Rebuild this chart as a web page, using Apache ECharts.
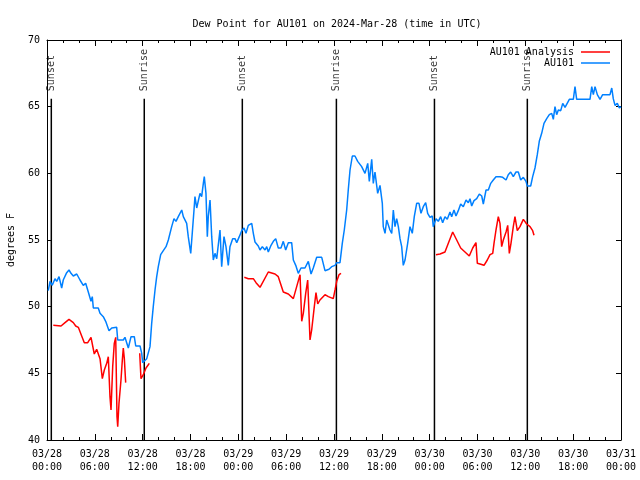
<!DOCTYPE html>
<html>
<head>
<meta charset="utf-8">
<script src="https://cdn.jsdelivr.net/npm/echarts@6/dist/echarts.min.js"></script>
<style>html,body{margin:0;padding:0;background:#fff;}#c{width:640px;height:480px;}</style>
</head>
<body>
<div id="c"></div>
<script>
// hours since 2024-03-28 00:00 UTC
const xTickLabels = ['03/28\n00:00','03/28\n06:00','03/28\n12:00','03/28\n18:00','03/29\n00:00','03/29\n06:00','03/29\n12:00','03/29\n18:00','03/30\n00:00','03/30\n06:00','03/30\n12:00','03/30\n18:00','03/31\n00:00'];

const blueHours = [0.16,0.38,0.66,1.00,1.22,1.51,1.84,2.04,2.47,2.76,3.01,3.30,3.73,4.14,4.55,4.85,5.18,5.52,5.68,5.81,6.43,6.65,7.06,7.36,7.61,7.78,8.12,8.74,8.87,9.57,9.78,10.0,10.2,10.54,10.95,11.13,11.67,11.88,12.0,12.08,12.51,12.92,13.13,13.33,13.55,13.76,13.96,14.26,14.59,14.93,15.22,15.64,15.93,16.18,16.47,16.90,17.10,17.52,17.72,18.03,18.28,18.44,18.56,18.78,19.19,19.40,19.61,19.73,19.94,20.11,20.23,20.45,20.66,20.86,21.07,21.29,21.49,21.70,21.91,22.20,22.45,22.74,22.95,23.29,23.58,23.80,24.12,24.42,24.71,24.96,25.25,25.68,25.88,26.09,26.50,26.72,27.01,27.35,27.56,27.76,28.10,28.39,28.69,29.01,29.35,29.64,29.94,30.27,30.69,30.90,31.20,31.52,31.86,32.36,32.78,33.12,33.40,33.83,34.46,34.87,35.37,35.71,36.13,36.34,36.75,37.04,37.29,37.59,37.79,38.01,38.30,38.63,38.97,39.47,39.89,40.23,40.43,40.73,40.93,41.14,41.48,41.77,42.06,42.18,42.40,42.61,42.81,43.02,43.24,43.44,43.65,43.86,44.07,44.28,44.49,44.69,44.91,45.24,45.53,45.82,46.07,46.37,46.66,46.91,47.20,47.50,47.75,48.04,48.33,48.45,48.67,48.79,49.08,49.38,49.63,49.92,50.21,50.55,50.76,51.05,51.30,51.59,51.89,52.22,52.56,52.85,53.06,53.27,53.56,53.90,54.23,54.53,54.73,55.07,55.36,55.66,55.98,56.32,56.82,57.16,57.58,57.86,58.16,58.49,58.83,59.12,59.42,59.75,60.08,60.25,60.67,60.92,61.21,61.50,61.75,62.05,62.34,62.68,63.01,63.31,63.51,63.72,63.93,64.14,64.44,64.69,64.98,65.19,65.52,66.02,66.23,66.44,68.11,68.33,68.53,68.74,69.03,69.37,69.70,70.62,70.84,71.03,71.25,71.54,71.79,72.0];
const blueValues = [51.2,51.9,51.6,52.1,51.9,52.25,51.4,52.0,52.55,52.75,52.5,52.3,52.45,52.0,51.6,51.75,51.1,50.4,50.75,49.9,49.9,49.5,49.25,48.9,49.05,48.2,48.4,48.45,47.5,47.5,47.7,47.7,46.9,47.75,47.75,47.05,47.05,46.5,45.8,45.75,46.1,47.0,48.75,50.0,51.25,52.25,53.0,53.9,54.2,54.5,55.0,56.0,56.6,56.4,56.75,57.25,56.75,56.25,55.25,54.0,54.0,57.25,58.25,57.4,58.5,58.25,59.25,59.75,58.5,55.25,56.75,58.0,55.25,53.5,54.0,53.6,53.5,55.75,53.0,55.25,54.5,53.1,54.5,55.1,55.1,54.8,55.25,55.7,55.9,55.5,56.1,56.25,55.5,54.85,54.55,54.25,54.5,54.25,54.5,54.1,54.6,54.9,55.1,54.4,54.4,54.9,54.25,54.8,54.8,53.5,53.1,52.5,52.9,52.9,53.4,52.45,52.9,53.7,53.7,52.7,52.8,53.0,53.1,53.3,53.3,54.75,55.75,57.25,58.75,60.25,61.3,61.3,60.9,60.5,60.0,60.75,59.4,61.05,59.25,60.1,58.5,59.1,57.75,56.0,55.5,56.5,56.6,55.75,55.5,57.25,56.0,56.6,56.0,55.1,54.5,53.1,53.5,54.75,56.0,55.5,56.75,57.75,57.75,57.0,57.5,57.8,57.0,56.7,56.8,56.0,55.95,56.6,56.4,56.75,56.3,56.75,56.55,57.1,56.75,57.25,56.8,57.2,57.7,57.5,58.0,57.8,58.1,57.55,57.95,58.1,58.45,58.3,57.7,58.75,58.75,59.25,59.5,59.75,59.75,59.7,59.5,59.9,60.1,59.75,60.1,60.1,59.5,59.7,59.4,59.05,59.05,59.75,60.4,61.4,62.4,63.0,63.75,64.1,64.4,64.5,64.05,65.0,64.4,64.75,64.7,65.25,64.95,65.1,65.55,65.55,66.5,65.55,65.55,66.5,65.9,66.5,65.9,65.55,65.9,65.9,66.4,65.6,65.1,65.25,64.9,65.0];

// null = gap in the analysis record
const redHours = [0.79,1.76,2.26,2.76,3.30,3.60,3.93,4.35,4.68,5.11,5.52,5.73,5.93,6.23,6.43,6.65,6.94,7.19,7.49,7.69,7.90,8.03,8.24,8.44,8.62,8.78,8.87,9.03,9.28,9.45,9.57,9.70,9.87,10.8,11.63,11.79,12.08,12.42,12.83,18.0,24.75,25.25,25.88,26.22,26.72,27.76,28.60,29.01,29.64,30.27,30.90,31.32,31.74,31.95,32.15,32.45,32.70,32.99,33.20,33.53,33.74,33.96,34.24,34.87,35.29,35.91,36.13,36.34,36.63,36.88,42.0,48.79,49.30,49.92,50.34,50.89,51.39,51.89,52.43,52.97,53.40,53.81,53.98,54.31,54.82,55.23,55.57,55.91,56.07,56.32,56.61,56.82,57.03,57.24,57.58,57.79,57.99,58.20,58.49,58.70,58.99,59.33,59.75,60.17,60.59,60.92,61.09];
const redValues = [48.6,48.55,48.8,49.05,48.8,48.55,48.45,47.8,47.3,47.3,47.7,47.8,46.45,46.8,46.95,46.1,44.6,45.25,45.75,46.25,43.25,42.25,45.5,47.25,47.7,41.75,41.0,42.75,44.5,46.0,46.9,46.1,44.3,null,46.5,44.6,44.9,45.4,45.75,null,52.2,52.1,52.1,51.8,51.45,52.6,52.45,52.25,51.1,50.95,50.6,51.5,52.4,48.9,49.5,51.0,52.0,47.5,48.25,50.0,51.05,50.2,50.5,50.9,50.75,50.6,51.25,51.9,52.4,52.5,null,53.9,53.95,54.1,54.75,55.6,55.0,54.4,54.1,53.8,54.4,54.8,53.25,53.2,53.1,53.5,53.9,54.0,54.75,55.75,56.75,56.25,54.5,55.0,55.6,56.1,54.0,54.75,56.0,56.75,55.7,56.0,56.55,56.2,56.0,55.7,55.35];

const sunHours = [0.54, 12.2, 24.5, 36.3, 48.6, 60.25];
const sunNames = ['Sunset','Sunrise','Sunset','Sunrise','Sunset','Sunrise'];
const sunLineTop = 65.6;

const FONT = 'DejaVu Sans Mono';
const chart = echarts.init(document.getElementById('c'));

const blueData = blueHours.map((h, i) => [h, blueValues[i]]);
const redData = redHours.map((h, i) => [h, redValues[i] === null ? '-' : redValues[i]]);

const sunSeries = sunHours.map(h => ({
  type: 'line', name: 'sun', silent: true, symbol: 'none', animation: false,
  data: [[h, 40], [h, sunLineTop]],
  lineStyle: { color: '#000', width: 1.5 }, z: 1
}));

const axisCommonX = {
  type: 'value', min: 0, max: 72, interval: 6,
  axisLine: { show: true, onZero: false, lineStyle: { color: '#000', width: 1 } },
  axisTick: { show: true, inside: true, length: 6, lineStyle: { color: '#000' } },
  minorTick: { show: true, splitNumber: 3, length: 3, lineStyle: { color: '#000' } },
  splitLine: { show: false }, minorSplitLine: { show: false }
};
const axisCommonY = {
  type: 'value', min: 40, max: 70, interval: 5,
  axisLine: { show: true, onZero: false, lineStyle: { color: '#000', width: 1 } },
  axisTick: { show: true, inside: true, length: 5, lineStyle: { color: '#000' } },
  splitLine: { show: false }
};

chart.setOption({
  animation: false,
  backgroundColor: '#fff',
  title: {
    text: 'Dew Point for AU101 on 2024-Mar-28 (time in UTC)',
    left: 332, top: 14, textAlign: 'center',
    textStyle: { fontFamily: FONT, fontSize: 10, fontWeight: 'normal', color: '#000' }
  },
  legend: {
    data: ['AU101 Analysis', 'AU101'],
    orient: 'vertical', align: 'right', right: 25, top: 42,
    icon: 'rect', itemWidth: 29, itemHeight: 1.5, itemGap: 1,
    textStyle: { fontFamily: FONT, fontSize: 10, color: '#000', padding: [0, 2, 0, 0] }
  },
  grid: { left: 47, right: 19, top: 40, bottom: 40, containLabel: false, outerBoundsMode: 'none' },
  xAxis: [
    Object.assign({}, axisCommonX, {
      position: 'bottom',
      axisLabel: {
        formatter: v => xTickLabels[Math.round(v / 6)],
        fontFamily: FONT, fontSize: 10, color: '#000', lineHeight: 13, margin: 8
      }
    }),
    Object.assign({}, axisCommonX, { position: 'top', axisLabel: { show: false } })
  ],
  yAxis: [
    Object.assign({}, axisCommonY, {
      position: 'left',
      name: 'degrees F', nameLocation: 'middle', nameGap: 31, nameRotate: 90,
      nameTextStyle: { fontFamily: FONT, fontSize: 10, color: '#000' },
      axisLabel: { fontFamily: FONT, fontSize: 10, color: '#000', margin: 7 }
    }),
    Object.assign({}, axisCommonY, { position: 'right', axisLabel: { show: false } })
  ],
  series: [
    ...sunSeries,
    {
      type: 'scatter', name: 'sunLabels', silent: true,
      symbolSize: 1, itemStyle: { color: 'rgba(0,0,0,0)' },
      data: sunHours.map((h, i) => [h, sunLineTop, sunNames[i]]),
      label: {
        show: true, position: 'top', distance: 7, rotate: 90,
        align: 'left', verticalAlign: 'middle',
        formatter: p => p.value[2],
        fontFamily: FONT, fontSize: 10, color: '#000'
      }
    },
    {
      type: 'line', name: 'AU101 Analysis', data: redData, symbol: 'none',
      connectNulls: false, color: '#ff0000',
      lineStyle: { color: '#ff0000', width: 1.5 }, z: 3
    },
    {
      type: 'line', name: 'AU101', data: blueData, symbol: 'none',
      color: '#0080ff',
      lineStyle: { color: '#0080ff', width: 1.5 }, z: 2
    }
  ]
});
</script>
</body>
</html>
